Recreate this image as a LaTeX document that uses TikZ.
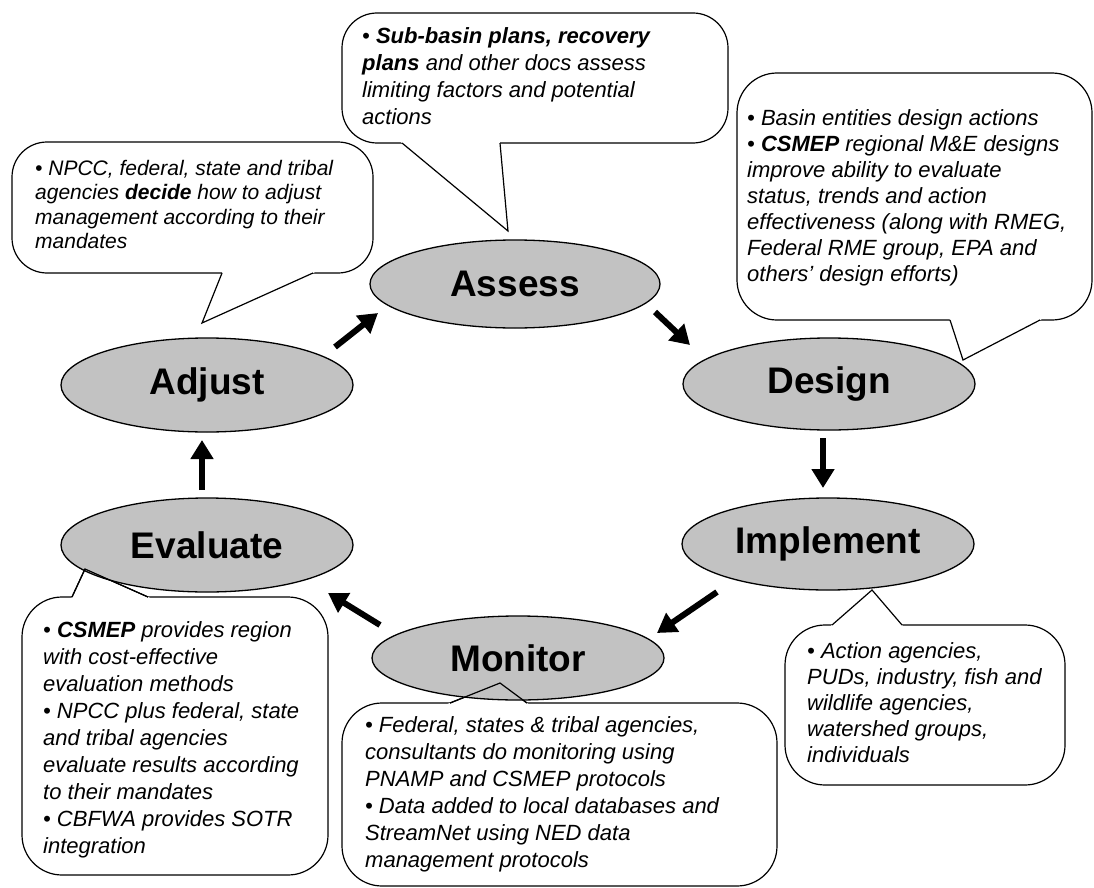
\documentclass[tikz,border=0pt]{standalone}
\usepackage{fontspec}
\setmainfont{Liberation Sans}
\usetikzlibrary{shapes.geometric,arrows.meta,calc}
\definecolor{stagefill}{gray}{0.76}
% speech bubble: corner, opposite corner, corner radius, pointer base, pointer tip, pointer base
\newcommand\bubble[6]{%
  \draw[callout, rounded corners=#3] #1 rectangle #2;
  \fill[white] ($#5!1.08!#4$) -- #5 -- ($#5!1.08!#6$) -- cycle;
  \draw[ptr] #4 -- #5 -- #6;
}
\begin{document}
\begin{tikzpicture}[x=1pt,y=-1pt,
  stage/.style={ellipse, draw, line width=1.3pt, fill=stagefill,
    minimum width=292pt, minimum height=92pt, inner sep=0pt,
    font=\fontsize{37}{40}\selectfont\bfseries},
  callout/.style={draw, fill=white, line width=1.2pt},
  ptr/.style={draw, line width=1.2pt, line join=miter},
  note/.style={anchor=north west, inner sep=0pt, align=left,
    font=\fontsize{22}{27}\selectfont\itshape},
  arr/.style={line width=6pt, -{Triangle[length=19pt,width=22pt]}}]
\useasboundingbox (0,0) rectangle (1094,888);

% speech-bubble callouts
\bubble{(12,142)}{(373,273)}{35pt}{(313,273)}{(202,323)}{(222,273)}
\bubble{(342,13)}{(728,143)}{35pt}{(500,143)}{(508,231)}{(402,143)}
\bubble{(737,73)}{(1092,320)}{40pt}{(1040,320)}{(963,360)}{(950,320)}
\bubble{(22,597)}{(328,875)}{40pt}{(72,597)}{(85,569)}{(148,597)}
\bubble{(342,703)}{(777,886)}{40pt}{(450,703)}{(500,683)}{(527,703)}
\bubble{(785,625)}{(1065,785)}{40pt}{(832,625)}{(872,590)}{(902,625)}

% stages of the cycle
\node[stage, minimum width=290pt, minimum height=88pt] (assess) at (515,284) {Assess};
\node[stage] (design) at (829,384) {Design};
\node[stage] (implement) at (828,544) {Implement};
\node[stage, minimum height=84pt] (monitor) at (518,658) {Monitor};
\node[stage, minimum height=94pt] (evaluate) at (207,545) {Evaluate};
\node[stage, minimum height=94pt] (adjust) at (207,385) {Adjust};

% pointer edges that overlap the stage ellipses
\draw[ptr] (72,597) -- (85,569) -- (148,597);
\draw[ptr] (450,703) -- (500,683) -- (527,703);

% callout texts
\node[note, font=\fontsize{21}{24.5}\selectfont\itshape] (adjustnote) at (35,160)
  {• NPCC, federal, state and tribal\\agencies \textbf{decide} how to adjust\\management according to their\\mandates};
\node[note] (assessnote) at (362,27)
  {• \textbf{Sub-basin plans, recovery}\\\textbf{plans} and other docs assess\\limiting factors and potential\\actions};
\node[note, font=\fontsize{22}{26}\selectfont\itshape] (designnote) at (747,109)
  {• Basin entities design actions\\• \textbf{CSMEP} regional M\&E designs\\improve ability to evaluate\\status, trends and action\\effectiveness (along with RMEG,\\Federal RME group, EPA and\\others’ design efforts)};
\node[note] (evaluatenote) at (43,621)
  {• \textbf{CSMEP} provides region\\with cost-effective\\evaluation methods\\• NPCC plus federal, state\\and tribal agencies\\evaluate results according\\to their mandates\\• CBFWA provides SOTR\\integration};
\node[note] (monitornote) at (365,716)
  {• Federal, states \& tribal agencies,\\consultants do monitoring using\\PNAMP and CSMEP protocols\\• Data added to local databases and\\StreamNet using NED data\\management protocols};
\node[note, font=\fontsize{22}{26}\selectfont\itshape] (implementnote) at (807,642)
  {• Action agencies,\\PUDs, industry, fish and\\wildlife agencies,\\watershed groups,\\individuals};

% cycle arrows
\coordinate (a1) at (335,347); \coordinate (a2) at (378,313);
\coordinate (b1) at (655,312); \coordinate (b2) at (690,345);
\coordinate (c1) at (823,438); \coordinate (c2) at (823,488);
\coordinate (d1) at (717,592); \coordinate (d2) at (657,633);
\coordinate (e1) at (380,625); \coordinate (e2) at (328,593);
\coordinate (f1) at (202,490); \coordinate (f2) at (202,440);
\draw[arr] (a1) -- (a2);
\draw[arr] (b1) -- (b2);
\draw[arr] (c1) -- (c2);
\draw[arr] (d1) -- (d2);
\draw[arr] (e1) -- (e2);
\draw[arr] (f1) -- (f2);
\end{tikzpicture}
\end{document}
